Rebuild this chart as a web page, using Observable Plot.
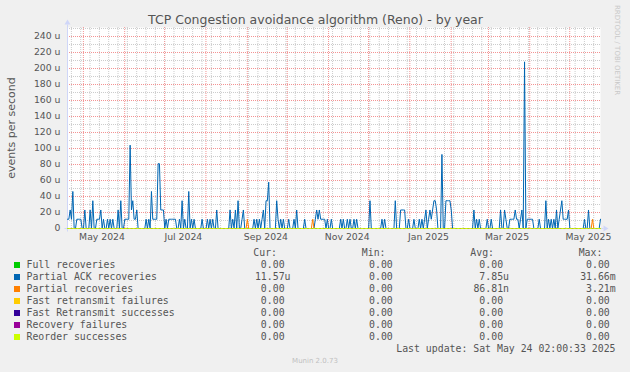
<!DOCTYPE html>
<html><head><meta charset="utf-8">
<script src="https://cdn.jsdelivr.net/npm/d3@7"></script>
<script src="https://cdn.jsdelivr.net/npm/@observablehq/plot@0.6"></script>
<style>
html,body{margin:0;padding:0;background:#f0f0f0;}
#wrap{position:relative;width:630px;height:372px;overflow:hidden;background:#f0f0f0;}
#chart{position:absolute;left:0;top:0;}
#overlay{position:absolute;left:0;top:0;pointer-events:none;}
</style></head>
<body><div id="wrap"><div id="chart"></div><svg id="overlay" width="630" height="372"></svg></div>
<script>
// ---------- data ----------
const title = "TCP Congestion avoidance algorithm (Reno) - by year";
const yLabel = "events per second";
const graphStart = "2024-04-19T02:00:33Z";   // 400-day window
const graphEnd   = "2025-05-24T02:00:33Z";
const lastUpdate = "Last update: Sat May 24 02:00:33 2025";

// events per day (daily consolidated), day 0 = graphStart
const partialAckEventsPerDay = [
  1,1,2,1,4,0,0,1,1,1,1,0,0,2,0,0,0,2,0,3,
  0,0,1,1,1,2,0,1,0,0,1,0,1,0,1,0,0,0,2,0,
  3,0,0,1,1,1,1,9,2,3,1,1,2,0,0,0,0,0,0,1,
  0,1,0,4,1,1,1,1,7,7,2,2,2,0,1,0,1,1,1,1,
  1,1,0,0,1,0,3,0,1,0,0,4,0,1,0,1,0,0,0,0,
  0,1,0,0,0,1,0,1,0,1,0,0,2,0,0,0,0,0,0,0,
  0,0,2,0,1,0,2,0,3,0,0,1,2,0,0,0,0,0,0,0,
  1,0,1,0,1,0,1,2,0,3,3,5,0,0,0,0,0,3,1,0,
  1,0,1,0,0,0,1,0,0,0,1,0,2,0,0,0,0,0,1,0,
  0,0,0,0,0,0,1,2,1,2,1,1,1,1,0,1,0,0,1,0,
  0,0,0,0,0,1,0,1,0,0,1,0,1,0,0,1,0,1,0,0,
  0,0,0,0,0,0,0,3,0,0,0,0,0,0,0,0,1,0,1,0,
  0,0,0,0,0,0,3,0,0,0,2,2,2,2,0,0,1,0,0,0,
  1,0,0,0,1,0,1,0,1,2,0,1,2,1,2,3,3,2,0,0,
  0,8,0,0,3,3,3,3,2,0,0,0,0,0,0,0,0,0,0,0,
  0,0,0,0,0,2,0,1,0,1,0,0,0,0,0,1,0,0,1,0,
  0,0,0,0,0,2,0,0,2,1,0,0,1,1,1,1,2,1,1,0,
  1,2,0,18,0,1,1,1,1,1,0,0,0,0,1,0,0,0,0,3,
  0,1,0,1,0,1,0,2,0,1,2,3,1,1,1,1,2,0,0,0,
  0,0,0,0,0,0,0,0,1,0,0,2,0,0,0,0,0,0,0,0,
  1
];
// days (index) on which one partial recovery was seen
const partialRecoveryDays = [135, 184, 394];

const seriesNames  = ["Full recoveries","Partial ACK recoveries","Partial recoveries","Fast retransmit failures","Fast Retransmit successes","Recovery failures","Reorder successes"];
const seriesColors = ["#00CC00","#0066B3","#FF8000","#FFCC00","#330099","#990099","#CCFF00"];
const curValues = ["0.00","11.57u","0.00","0.00","0.00","0.00","0.00"];
const minValues = ["0.00","0.00","0.00","0.00","0.00","0.00","0.00"];
const avgValues = ["0.00","7.85u","86.81n","0.00","0.00","0.00","0.00"];
const maxValues = ["0.00","31.66m","3.21m","0.00","0.00","0.00","0.00"];
const columnHeaders = ["Cur:","Min:","Avg:","Max:"];

const xTickMonths = ["2024-05-15","2024-07-15","2024-09-15","2024-11-15","2025-01-15","2025-03-15","2025-05-15"];
const xTickLabels = ["May 2024","Jul 2024","Sep 2024","Nov 2024","Jan 2025","Mar 2025","May 2025"];
const yTicks = [0,20,40,60,80,100,120,140,160,180,200,220,240];
const yMinorTicks = [10,30,50,70,90,110,130,150,170,190,210,230,250];

// ---------- build ----------
const start = new Date(graphStart), end = new Date(graphEnd);
const DAY = 86400000;
const perSecondMicro = c => c / 86400 * 1e6; // events/day -> u events/s
const days = partialAckEventsPerDay.map((c, i) => new Date(+start + i * DAY));
const series = seriesNames.map((name, k) => ({
  name, color: seriesColors[k],
  values: days.map((date, i) => ({
    date,
    v: k === 1 ? perSecondMicro(partialAckEventsPerDay[i])
      : k === 2 ? perSecondMicro(partialRecoveryDays.includes(i) ? 1 : 0)
      : 0
  }))
}));

const months = d3.utcMonth.range(start, end);
const weeks = d3.utcMonday.range(start, end);
const tickDates = xTickMonths.map(s => new Date(s + "T00:00:00Z"));
const labelOf = new Map(tickDates.map((d, i) => [+d, xTickLabels[i]]));

const grey = "#cccccc", red = "#f39393";
const chart = Plot.plot({
  width: 630, height: 250,
  marginLeft: 67, marginRight: 30, marginTop: 27, marginBottom: 22,
  style: {background: "transparent", fontFamily: "DejaVu Sans", fontSize: "9.3px", color: "#555", overflow: "visible"},
  x: {type: "utc", domain: [start, end]},
  y: {domain: [0, 251.25]},
  marks: [
    Plot.frame({fill: "white", stroke: "none"}),
    Plot.ruleX(weeks, {stroke: grey, strokeDasharray: "1,1"}),
    Plot.ruleY(yMinorTicks, {stroke: grey, strokeDasharray: "1,1"}),
    Plot.ruleX(months, {stroke: red, strokeDasharray: "1,1"}),
    Plot.ruleY(yTicks.filter(t => t > 0), {stroke: red, strokeDasharray: "1,1"}),
    Plot.axisX(tickDates, {tickSize: 0, tickPadding: 5, label: null, tickFormat: d => labelOf.get(+d), fill: "#555"}),
    Plot.axisY(yTicks, {tickSize: 0, tickPadding: 7, label: null, tickFormat: d => d === 0 ? "0" : d + " u", fill: "#555"}),
    ...series.map(s => Plot.line(s.values, {x: "date", y: "v", stroke: s.color, strokeWidth: 1, curve: "linear"}))
  ]
});
document.getElementById("chart").appendChild(chart);

// axes with arrows (drawn beneath the data lines)
{
  const svg = d3.select(chart);
  const xs = chart.scale("x"), ys = chart.scale("y");
  const x0 = Math.round(xs.apply(start)) + 0.5, x1 = Math.round(xs.apply(end)) + 0.5;
  const y0 = Math.round(ys.apply(0)) + 0.5, yTop = Math.round(ys.apply(251.25)) + 0.5;
  const firstLine = chart.querySelector("g[aria-label='line']");
  const g = svg.insert("g", () => firstLine).attr("stroke", "#CFD6F8").attr("fill", "#CFD6F8");
  g.append("line").attr("x1", x0 - 3).attr("x2", x1 + 3).attr("y1", y0).attr("y2", y0);
  g.append("line").attr("x1", x0).attr("x2", x0).attr("y1", y0 + 3).attr("y2", yTop - 3);
  g.append("path").attr("stroke", "none").attr("d", `M${x1 + 8},${y0} L${x1 + 3},${y0 - 3} L${x1 + 3},${y0 + 3} Z`);
  g.append("path").attr("stroke", "none").attr("d", `M${x0},${yTop - 8} L${x0 - 3},${yTop - 3} L${x0 + 3},${yTop - 3} Z`);
}

// ---------- texts, legend ----------
const ov = d3.select("#overlay");
const sans = "DejaVu Sans", mono = "DejaVu Sans Mono";
ov.append("text").attr("x", 315.5).attr("y", 19.5).attr("dy", "0.35em").attr("text-anchor", "middle")
  .attr("font-family", sans).attr("font-size", 12.5).attr("fill", "#555").text(title);
ov.append("text").attr("transform", "translate(11,128) rotate(-90)").attr("dy", "0.35em").attr("text-anchor", "middle")
  .attr("font-family", sans).attr("font-size", 11).attr("fill", "#555").text(yLabel);
ov.append("text").attr("transform", "translate(617,5) rotate(90)").attr("dy", "0.35em").attr("text-anchor", "start")
  .attr("font-family", sans).attr("font-size", 7).attr("fill", "#c8c8c8").text("RRDTOOL / TOBI OETIKER");

const colRight = [290.5, 398.7, 509, 615.7];
const headRight = [277, 385.5, 494, 602.4];
const legendFont = 9.85;
columnHeaders.forEach((h, j) => {
  ov.append("text").attr("x", headRight[j]).attr("y", 253).attr("dy", "0.35em").attr("text-anchor", "end")
    .attr("font-family", mono).attr("font-size", legendFont).attr("fill", "#555").text(h);
});
const unitPad = v => /[a-zµ]$/i.test(v) ? v : v + "\u00a0";
seriesNames.forEach((name, k) => {
  const cy = 265 + 12 * k;
  ov.append("rect").attr("x", 14).attr("y", cy - 3).attr("width", 6).attr("height", 6).attr("fill", seriesColors[k]);
  ov.append("text").attr("x", 26.5).attr("y", cy).attr("dy", "0.35em").attr("font-family", mono)
    .attr("font-size", legendFont).attr("fill", "#555").text(name);
  [curValues, minValues, avgValues, maxValues].forEach((arr, j) => {
    ov.append("text").attr("x", colRight[j]).attr("y", cy).attr("dy", "0.35em").attr("text-anchor", "end")
      .attr("font-family", mono).attr("font-size", legendFont).attr("fill", "#555")
      .attr("xml:space", "preserve").style("white-space", "pre").text(unitPad(arr[k]));
  });
});
ov.append("text").attr("x", 615.5).attr("y", 349).attr("dy", "0.35em").attr("text-anchor", "end")
  .attr("font-family", mono).attr("font-size", legendFont).attr("fill", "#555").text(lastUpdate);
ov.append("text").attr("x", 315).attr("y", 361).attr("dy", "0.35em").attr("text-anchor", "middle")
  .attr("font-family", sans).attr("font-size", 7).attr("fill", "#c0c0c0").text("Munin 2.0.73");
</script></body></html>
